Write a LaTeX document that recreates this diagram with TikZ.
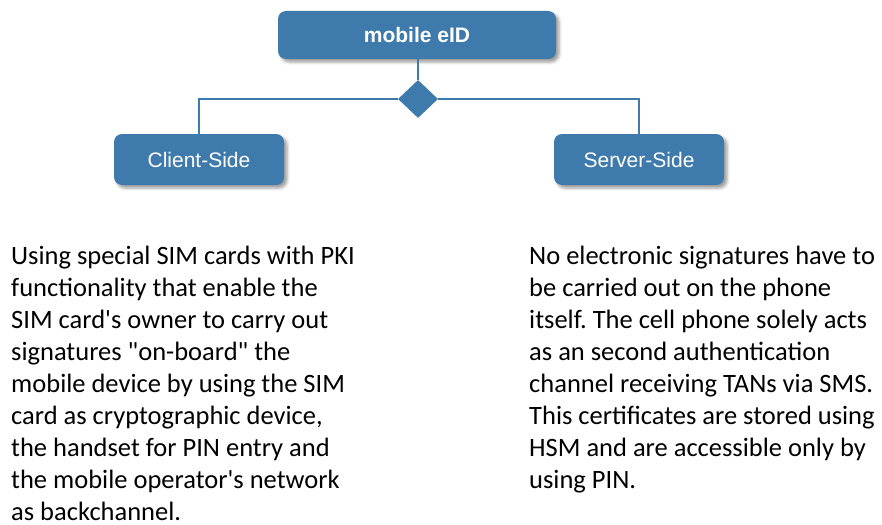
\documentclass[tikz,border=0pt]{standalone}
\usepackage{fontspec}
\setmainfont{Carlito}[Ligatures=TeXOff]
\newfontfamily\arialf{Liberation Sans}
\usetikzlibrary{shapes.geometric,shadows.blur}
\definecolor{boxblue}{HTML}{3F7AAD}
\tikzset{
  box/.style={rectangle, rounded corners=8pt, fill=boxblue, text=white,
    font=\arialf\fontsize{21}{25}\selectfont, inner sep=0pt,
    blur shadow={shadow xshift=3pt, shadow yshift=-3pt, shadow blur radius=3pt, shadow opacity=40}},
  dia/.style={diamond, fill=boxblue, inner sep=0pt, minimum width=40pt, minimum height=38pt},
  link/.style={draw=boxblue, line width=2.2pt},
  para/.style={anchor=base west, inner sep=0pt}
}
\begin{document}
\frenchspacing
\begin{tikzpicture}[x=1pt,y=-1pt]
\useasboundingbox (0,0) rectangle (882,524);
\node[box, minimum width=278pt, minimum height=48pt, font=\arialf\bfseries\fontsize{21}{25}\selectfont] (top) at (417,35) {mobile eID};
\node[box, minimum width=170pt, minimum height=51pt] (client) at (199,159.5) {Client-Side};
\node[box, minimum width=170pt, minimum height=51pt] (server) at (639,159.5) {Server-Side};
\node[dia] (d) at (418,99) {};
\draw[link] (top.south -| d.north) -- (d.north);
\draw[link] (d.west) -| (client.north);
\draw[link] (d.east) -| (server.north);
\node[para] (lt) at (11,264) {\parbox[t]{370pt}{\fontsize{26.5}{32}\selectfont\frenchspacing
Using special SIM cards with PKI\\
functionality that enable the\\
SIM card's owner to carry out\\
signatures "on-board" the\\
mobile device by using the SIM\\
card as cryptographic device,\\
the handset for PIN entry and\\
the mobile operator's network\\
as backchannel.}};
\node[para] (rt) at (529,264) {\parbox[t]{370pt}{\fontsize{26.5}{32}\selectfont\frenchspacing
No electronic signatures have to\\
be carried out on the phone\\
itself. The cell phone solely acts\\
as an second authentication\\
channel receiving TANs via SMS.\\
This certificates are stored using\\
HSM and are accessible only by\\
using PIN.}};
\end{tikzpicture}
\end{document}
